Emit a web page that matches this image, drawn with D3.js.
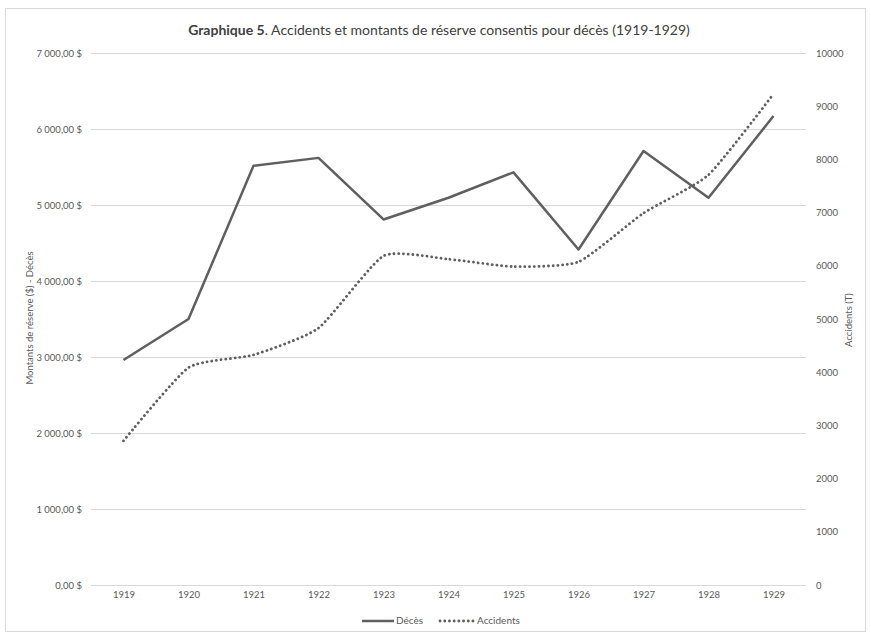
<!DOCTYPE html>
<html><head><meta charset="utf-8">
<script src="https://cdn.jsdelivr.net/npm/d3@7"></script>
<style>body{margin:0;background:#fff}svg{display:block;font-family:Lato,"Open Sans",sans-serif}</style>
</head><body><svg id="c" width="871" height="637"></svg>
<script>
const years = ["1919","1920","1921","1922","1923","1924","1925","1926","1927","1928","1929"];
const deces = [2960, 3500, 5515, 5620, 4810, 5095, 5430, 4415, 5710, 5095, 6170];
const accidents = [2710, 4085, 4325, 4830, 6185, 6125, 5985, 6075, 6990, 7710, 9230];
const leftTicks = [0,1000,2000,3000,4000,5000,6000,7000];
const rightTicks = [0,1000,2000,3000,4000,5000,6000,7000,8000,9000,10000];

const svg = d3.select("#c");
const txt = "#595959", grid = "#d9d9d9", lineC = "#5f5f5f";
svg.append("rect").attr("x",5.5).attr("y",8.5).attr("width",860).attr("height",623)
  .attr("fill","#fff").attr("stroke","#d9d9d9");

const x = d3.scalePoint().domain(years).range([123.5,773.5]);
const yL = d3.scaleLinear().domain([0,7000]).range([585,53]);
const yR = d3.scaleLinear().domain([0,10000]).range([585,53]);

const fmt = v => d3.format(",.2f")(v).replace(/,/g," ").replace(".",",") + " $";

// grid
svg.append("g").selectAll("line").data(leftTicks).join("line")
  .attr("x1",91).attr("x2",806).attr("y1",d=>Math.round(yL(d))+0.5).attr("y2",d=>Math.round(yL(d))+0.5)
  .attr("stroke",grid).attr("stroke-width",1);

// left axis
const la = svg.append("g").attr("transform","translate(82,0)")
  .call(d3.axisLeft(yL).tickValues(leftTicks).tickFormat(fmt).tickSize(0).tickPadding(0));
la.select(".domain").remove();
la.selectAll("text").attr("fill",txt).style("font-size","9.5px").style("font-family","Lato");

// right axis
const ra = svg.append("g").attr("transform","translate(816,0)")
  .call(d3.axisRight(yR).tickValues(rightTicks).tickFormat(d3.format("d")).tickSize(0).tickPadding(0));
ra.select(".domain").remove();
ra.selectAll("text").attr("fill",txt).style("font-size","9.5px").style("font-family","Lato");

// x axis
const xa = svg.append("g").attr("transform","translate(0,591)")
  .call(d3.axisBottom(x).tickSize(0).tickPadding(0));
xa.select(".domain").remove();
xa.selectAll("text").attr("fill",txt).style("font-size","9.5px").style("font-family","Lato");

// axis titles
svg.append("text").attr("transform","translate(31,318) rotate(-90)").attr("text-anchor","middle")
  .attr("dominant-baseline","middle").attr("fill",txt).style("font-size","9.5px")
  .text("Montants de réserve ($) - Décès");
svg.append("text").attr("transform","translate(850,320) rotate(-90)").attr("text-anchor","middle")
  .attr("dominant-baseline","middle").attr("fill",txt).style("font-size","9.5px")
  .text("Accidents (T)");

// lines
const lineD = d3.line().x((d,i)=>x(years[i])).y(d=>yL(d));
svg.append("path").datum(deces).attr("d",lineD).attr("fill","none")
  .attr("stroke",lineC).attr("stroke-width",2.5).attr("stroke-linejoin","round");
const lineA = d3.line().x((d,i)=>x(years[i])).y(d=>yR(d)).curve(d3.curveCardinal.tension(0.45));
svg.append("path").datum(accidents).attr("d",lineA).attr("fill","none")
  .attr("stroke",lineC).attr("stroke-width",2.8).attr("stroke-linecap","round")
  .attr("stroke-dasharray","0.1 4.6");

// title
const t = svg.append("text").attr("x",439).attr("y",35).attr("text-anchor","middle")
  .attr("fill","#404040").style("font-size","14px");
t.append("tspan").attr("font-weight","bold").text("Graphique 5");
t.append("tspan").text(". Accidents et montants de réserve consentis pour décès (1919-1929)");

// legend
const lg = svg.append("g").attr("transform","translate(0,621)");
lg.append("line").attr("x1",362).attr("x2",394).attr("stroke",lineC).attr("stroke-width",2.5);
lg.append("text").attr("x",396).attr("dominant-baseline","middle").attr("fill",txt).style("font-size","10px").text("Décès");
lg.append("line").attr("x1",440).attr("x2",473).attr("stroke",lineC).attr("stroke-width",2.8)
  .attr("stroke-linecap","round").attr("stroke-dasharray","0.1 4.6");
lg.append("text").attr("x",477).attr("dominant-baseline","middle").attr("fill",txt).style("font-size","10px").text("Accidents");
</script></body></html>
